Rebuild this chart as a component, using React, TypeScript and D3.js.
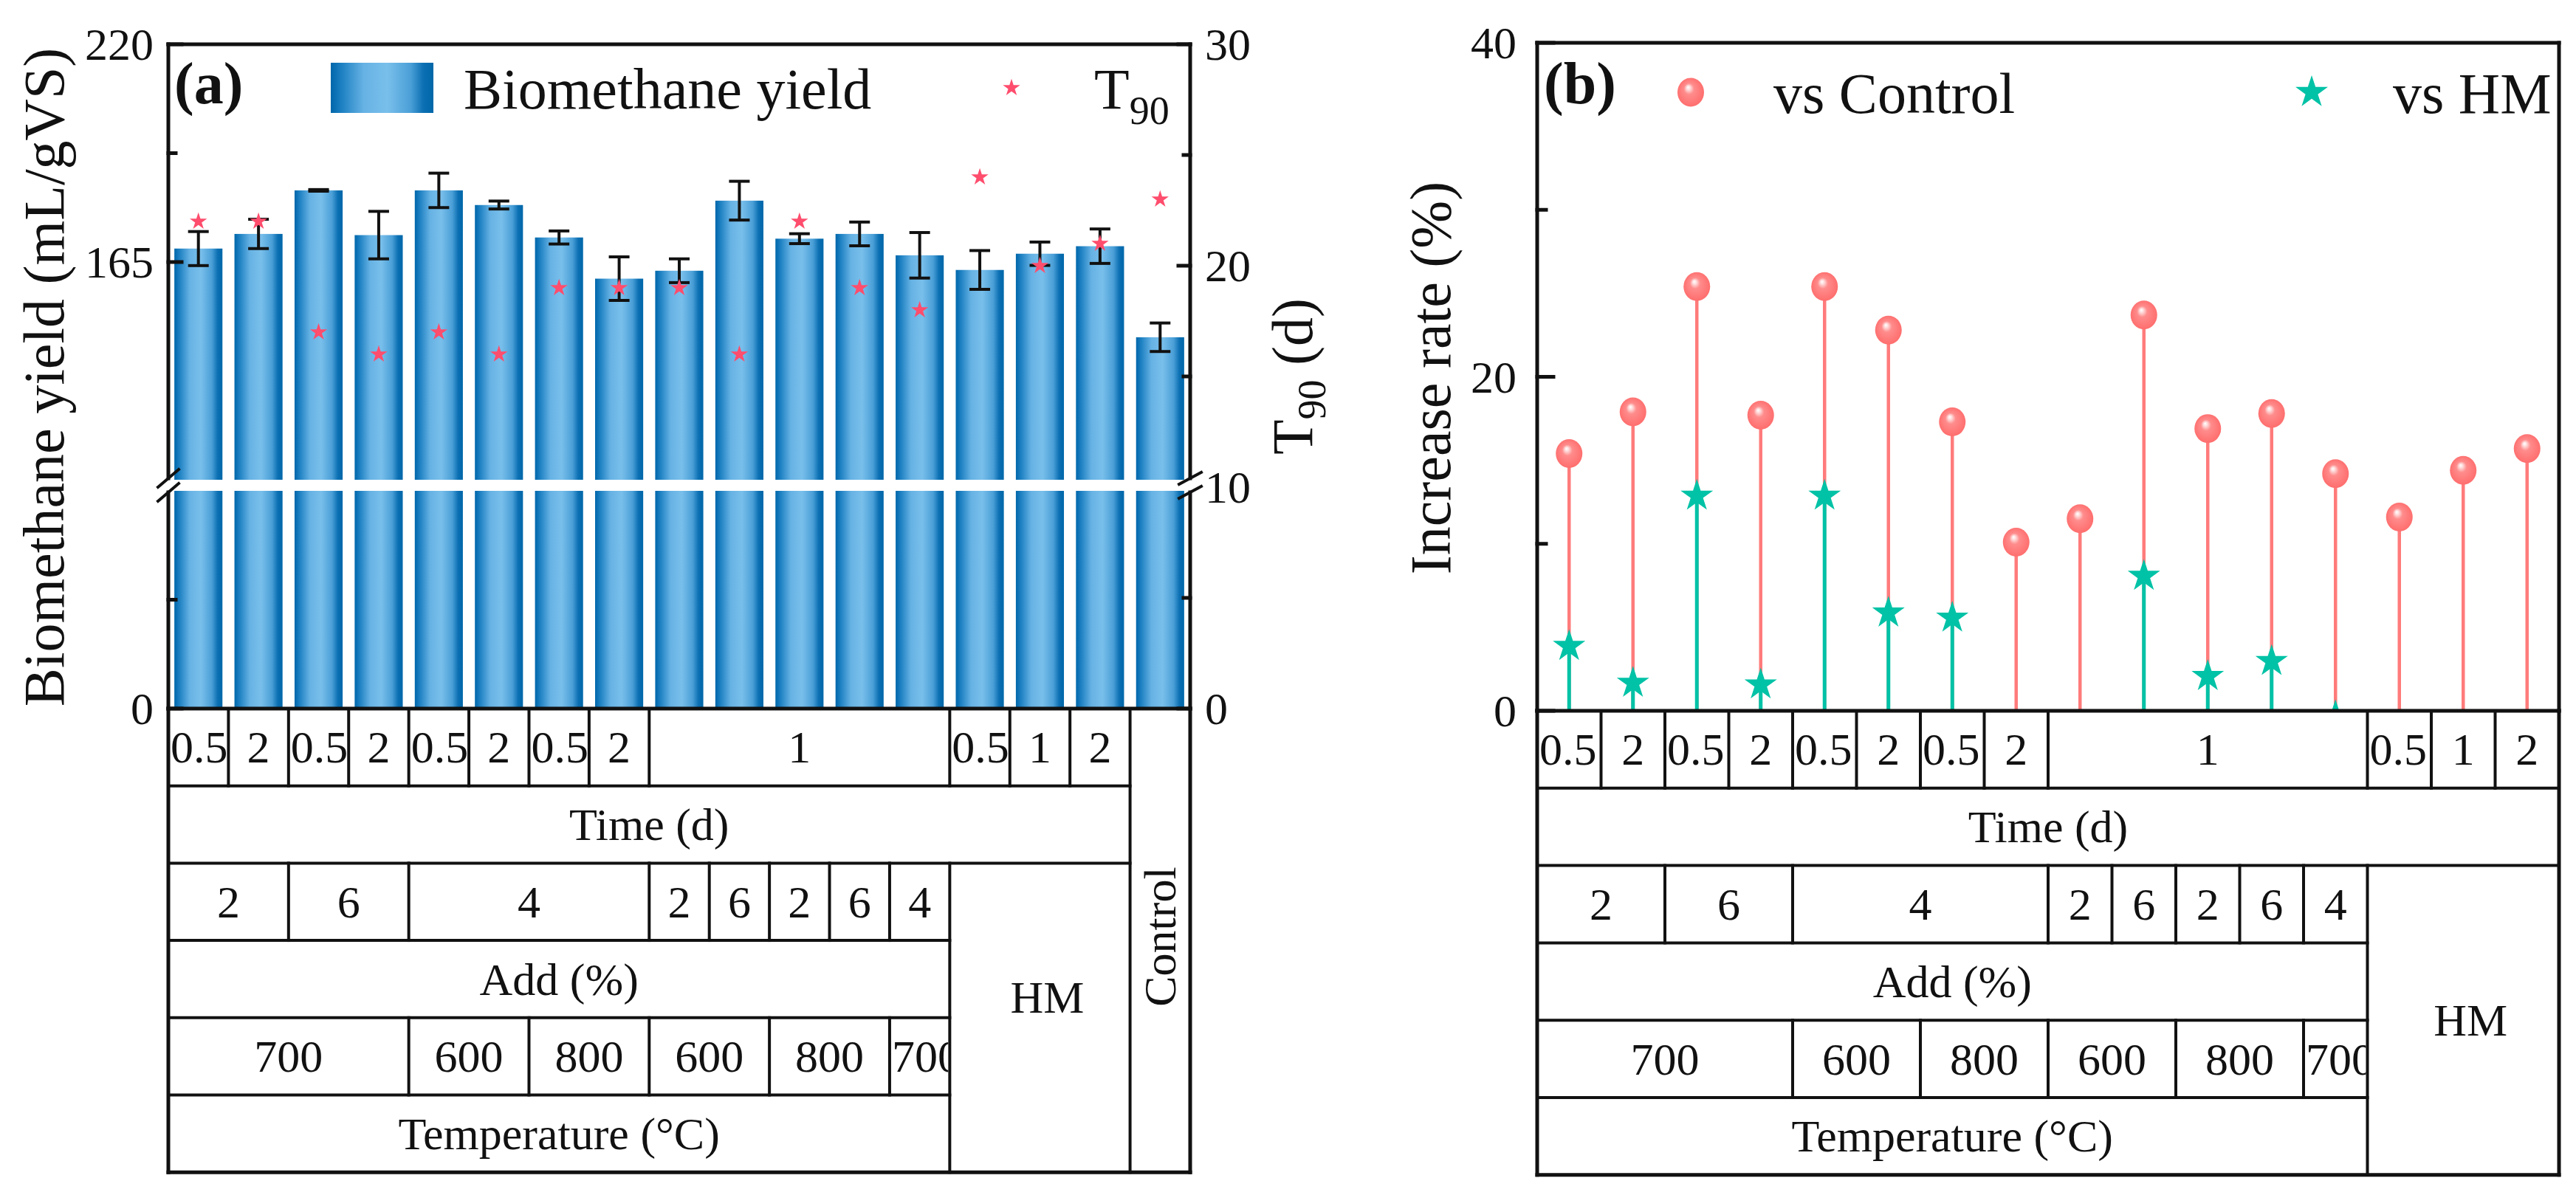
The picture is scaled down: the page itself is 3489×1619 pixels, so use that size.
import { useEffect, useRef } from "react"
import * as d3 from "d3"

// samples: temperature-add-time, then HM (time only) and Control
const samples = [
  "700-2-0.5", "700-2-2", "700-6-0.5", "700-6-2",
  "600-4-0.5", "600-4-2", "800-4-0.5", "800-4-2",
  "600-2-1", "600-6-1", "800-2-1", "800-6-1", "700-4-1",
  "HM-0.5", "HM-1", "HM-2", "Control",
]

// panel (a)
const yieldMean = [168.4, 172.1, 183.1, 171.8, 183.1, 179.4, 171.2, 160.8, 162.8, 180.5, 170.9, 172.1, 166.7, 163.0, 167.1, 169.0, 146.0]
const yieldErr = [4.3, 3.7, 0.2, 6.0, 4.35, 1.0, 1.65, 5.5, 3.0, 4.9, 1.25, 3.0, 5.75, 4.9, 2.95, 4.35, 3.6]
const t90Days = [22, 22, 17, 16, 17, 16, 19, 19, 19, 16, 22, 19, 18, 24, 20, 21, 23]

// panel (b), increase rate (%)
const vsControl = [15.4, 17.9, 25.4, 17.7, 25.4, 22.8, 17.3, 10.1, 11.5, 23.7, 16.9, 17.8, 14.2, 11.6, 14.4, 15.7]
const vsHM: (number | null)[] = [4.0, 1.8, 13.0, 1.7, 13.0, 6.0, 5.7, null, null, 8.2, 2.2, 3.1, -0.2]

// table under the x axis: [label, number of columns spanned]
const timeCells: [string, number][] = [
  ["0.5", 1], ["2", 1], ["0.5", 1], ["2", 1], ["0.5", 1], ["2", 1], ["0.5", 1], ["2", 1],
  ["1", 5], ["0.5", 1], ["1", 1], ["2", 1],
]
const addCells: [string, number][] = [["2", 2], ["6", 2], ["4", 4], ["2", 1], ["6", 1], ["2", 1], ["6", 1], ["4", 1]]
const tempCells: [string, number][] = [["700", 4], ["600", 2], ["800", 2], ["600", 2], ["800", 2], ["700", 1]]

const yieldTicks = [0, 165, 220]
const yieldMinor = [55, 192.5]
const t90Ticks = [0, 10, 20, 30]
const t90Minor = [5, 15, 25]
const rateTicks = [0, 20, 40]
const rateMinor = [10, 30]

const FONT = "'Liberation Serif', 'Times New Roman', Times, serif"
const INK = "#111"

export default function App() {
  const svgRef = useRef<SVGSVGElement>(null)

  useEffect(() => {
    document.body.style.margin = "0"
    if (!svgRef.current) return
    const svg = d3.select(svgRef.current)
    svg.selectAll("*").remove()
    svg.attr("font-family", FONT)

    const defs = svg.append("defs")
    const bg = defs.append("linearGradient").attr("id", "barGrad").attr("x1", 0).attr("x2", 1).attr("y1", 0).attr("y2", 0)
    ;[
      [0, "#0066aa"], [0.1, "#1b7fc1"], [0.32, "#66b2e4"], [0.55, "#79bfeb"],
      [0.78, "#4a9fd7"], [0.9, "#0c70b3"], [1, "#0067a9"],
    ].forEach(([o, c]) => bg.append("stop").attr("offset", o as number).attr("stop-color", c as string))

    const rg = defs.append("radialGradient").attr("id", "ballGrad")
      .attr("cx", 0.5).attr("cy", 0.5).attr("r", 0.55).attr("fx", 0.4).attr("fy", 0.32)
    ;[
      [0, "#ffffff"], [0.12, "#ffe0e0"], [0.35, "#ff8c8c"], [1, "#ff6a6a"],
    ].forEach(([o, c]) => rg.append("stop").attr("offset", o as number).attr("stop-color", c as string))

    let clipId = 0
    const text = (g: any, x: number, y: number, s: string, size: number, anchor = "middle") =>
      g.append("text").attr("x", x).attr("y", y).attr("font-size", size).attr("text-anchor", anchor)
        .attr("fill", INK).text(s)

    const line = (g: any, x1: number, y1: number, x2: number, y2: number, w = 4, c = INK) =>
      g.append("line").attr("x1", x1).attr("y1", y1).attr("x2", x2).attr("y2", y2)
        .attr("stroke", c).attr("stroke-width", w).attr("stroke-linecap", "square")

    // the category table below each panel
    function drawTable(g: any, x0: number, step: number, yTop: number, rowH: number, nCols: number, control: boolean, hmDy: number) {
      const fs = 62
      const X = (k: number) => x0 + k * step
      const Y = (r: number) => yTop + r * rowH
      const timeEnd = 16
      const addEnd = 13
      const right = X(nCols)

      line(g, X(0), Y(1), X(timeEnd), Y(1))
      line(g, X(0), Y(2), X(timeEnd), Y(2))
      ;[3, 4, 5].forEach((r) => line(g, X(0), Y(r), X(addEnd), Y(r)))
      line(g, X(0), Y(6), right, Y(6), 5)
      line(g, X(0), Y(0), X(0), Y(6), 5)
      line(g, right, Y(0), right, Y(6), 5)
      line(g, X(addEnd), Y(2), X(addEnd), Y(6))
      if (control) line(g, X(timeEnd), Y(0), X(timeEnd), Y(6))

      const cells = (list: [string, number][], row: number, end: number) => {
        let k = 0
        list.forEach(([label, span]) => {
          const a = X(k)
          const b = X(k + span)
          const yb = (Y(row) + Y(row + 1)) / 2 + fs * 0.34
          const id = `cell${clipId++}`
          defs.append("clipPath").attr("id", id).append("rect")
            .attr("x", a + 2).attr("y", Y(row)).attr("width", b - a - 4).attr("height", rowH)
          const wide = label.length * fs * 0.5 > b - a - 4
          text(g, wide ? a + 3 : (a + b) / 2, yb, label, fs, wide ? "start" : "middle")
            .attr("clip-path", `url(#${id})`)
          k += span
          if (k < end) line(g, X(k), Y(row), X(k), Y(row + 1))
        })
      }
      cells(timeCells, 0, timeEnd)
      cells(addCells, 2, addEnd)
      cells(tempCells, 4, addEnd)

      text(g, (X(0) + X(timeEnd)) / 2, (Y(1) + Y(2)) / 2 + fs * 0.34, "Time (d)", fs)
      text(g, (X(0) + X(addEnd)) / 2, (Y(3) + Y(4)) / 2 + fs * 0.34, "Add (%)", fs)
      text(g, (X(0) + X(addEnd)) / 2, (Y(5) + Y(6)) / 2 + fs * 0.34, "Temperature (\u00b0C)", fs)
      text(g, (X(addEnd) + X(timeEnd)) / 2 + 10, (Y(2) + Y(6)) / 2 + fs * 0.34 + hmDy, "HM", fs)
      if (control) {
        const cx = (X(timeEnd) + right) / 2 + fs * 0.34
        const cy = (Y(0) + Y(6)) / 2 - 5
        g.append("text").attr("transform", `translate(${cx},${cy}) rotate(-90)`)
          .attr("font-size", fs).attr("text-anchor", "middle").attr("fill", INK).text("Control")
      }
    }

    // ---------------- panel (a) ----------------
    const aL = 228, aR = 1612, aT = 60, aB = 960
    const gapTop = 650, gapBot = 665
    const ga = svg.append("g")

    const xA = d3.scaleBand<string>().domain(samples).range([aL, aR]).paddingInner(0.2).paddingOuter(0.1)
    const yLow = d3.scaleLinear().domain([0, 110]).range([aB, gapBot])
    const yHigh = d3.scaleLinear().domain([110, 220]).range([gapTop, aT])
    const yY = (v: number) => (v <= 110 ? yLow(v) : yHigh(v))
    const yT = d3.scaleLinear().domain([0, 30]).range([aB, aT])
    const bw = xA.bandwidth()

    ga.selectAll(".bar").data(samples).enter().append("rect")
      .attr("x", (d) => xA(d)!).attr("width", bw)
      .attr("y", (d, i) => yY(yieldMean[i])).attr("height", (d, i) => aB - yY(yieldMean[i]))
      .attr("fill", "url(#barGrad)")

    // axis break gap
    ga.append("rect").attr("x", aL + 3).attr("y", gapTop).attr("width", aR - aL - 6).attr("height", gapBot - gapTop).attr("fill", "#fff")

    // error bars
    samples.forEach((s, i) => {
      const cx = xA(s)! + bw / 2
      const y1 = yY(yieldMean[i] + yieldErr[i])
      const y2 = yY(yieldMean[i] - yieldErr[i])
      line(ga, cx, y1, cx, y2, 4).attr("stroke-linecap", "butt")
      line(ga, cx - 14, y1, cx + 14, y1, 4).attr("stroke-linecap", "butt")
      line(ga, cx - 14, y2, cx + 14, y2, 4).attr("stroke-linecap", "butt")
    })

    const smallStar = d3.symbol(d3.symbolStar, 170)
    ga.selectAll(".t90").data(samples).enter().append("path")
      .attr("d", smallStar).attr("fill", "#ff4d6d")
      .attr("transform", (d, i) => `translate(${xA(d)! + bw / 2},${yT(t90Days[i])})`)

    // frame
    line(ga, aL, aT, aR, aT, 5)
    line(ga, aL, aB, aR, aB, 5)
    line(ga, aL, aT, aL, gapTop - 2, 5)
    line(ga, aL, gapBot + 2, aL, aB, 5)
    line(ga, aR, aT, aR, gapTop - 2, 5)
    line(ga, aR, gapBot + 2, aR, aB, 5)
    // break marks
    ;[gapTop - 2, gapBot + 2].forEach((y) => {
      line(ga, aL - 14, y + 12, aL + 14, y - 12, 4)
      line(ga, aR - 15, y + 8, aR + 15, y - 8, 4)
    })

    // left axis
    yieldTicks.forEach((v) => {
      line(ga, aL, yY(v), aL + 18, yY(v), 5)
      text(ga, aL - 20, yY(v) + 62 * 0.34, String(v), 62, "end")
    })
    yieldMinor.forEach((v) => line(ga, aL, yY(v), aL + 10, yY(v), 5))
    // right axis
    t90Ticks.forEach((v) => {
      if (v !== 10) line(ga, aR, yT(v), aR - 16, yT(v), 5)
      text(ga, aR + 20, yT(v) + 62 * 0.34, String(v), 62, "start")
    })
    t90Minor.forEach((v) => line(ga, aR, yT(v), aR - 9, yT(v), 5))

    ga.append("text").attr("transform", `translate(86,511) rotate(-90)`)
      .attr("font-size", 78).attr("text-anchor", "middle").attr("fill", INK)
      .text("Biomethane yield (mL/gVS)")
    const tt = ga.append("text").attr("transform", `translate(1777,510) rotate(-90)`)
      .attr("font-size", 78).attr("text-anchor", "middle").attr("fill", INK)
    tt.append("tspan").text("T")
    tt.append("tspan").text("90").attr("font-size", 54).attr("dy", 18)
    tt.append("tspan").text(" (d)").attr("dy", -18)

    // legend (a)
    ga.append("text").attr("x", 236).attr("y", 140).attr("font-size", 80).attr("font-weight", "bold").attr("fill", INK).text("(a)")
    ga.append("rect").attr("x", 448).attr("y", 85).attr("width", 139).attr("height", 68).attr("fill", "url(#barGrad)")
    text(ga, 628, 147, "Biomethane yield", 78, "start")
    ga.append("path").attr("d", smallStar).attr("fill", "#ff4d6d").attr("transform", "translate(1370,119)")
    const lt = text(ga, 1482, 147, "T", 78, "start")
    lt.append("tspan").text("90").attr("font-size", 54).attr("dy", 21)

    drawTable(ga, aL, xA.step(), aB, 104.7, 17, true, -28)

    // ---------------- panel (b) ----------------
    const bL = 2082, bR = 3466, bT = 58, bB = 963
    const gb = svg.append("g")
    const xB = d3.scaleBand<string>().domain(samples.slice(0, 16)).range([bL, bR])
    const yB = d3.scaleLinear().domain([0, 40]).range([bB, bT])
    const cB = (i: number) => xB(samples[i])! + xB.bandwidth() / 2

    defs.append("clipPath").attr("id", "clipB").append("rect")
      .attr("x", bL).attr("y", bT).attr("width", bR - bL).attr("height", bB - bT)
    const plotB = gb.append("g").attr("clip-path", "url(#clipB)")

    vsControl.forEach((v, i) => line(plotB, cB(i), yB(0), cB(i), yB(v), 4.5, "#ff7b7b").attr("stroke-linecap", "butt"))
    vsHM.forEach((v, i) => {
      if (v === null) return
      line(plotB, cB(i), yB(0), cB(i), yB(Math.max(v, 0)), 5, "#00c2a6").attr("stroke-linecap", "butt")
    })
    plotB.selectAll(".ball").data(vsControl).enter().append("ellipse")
      .attr("cx", (d, i) => cB(i)).attr("cy", (d) => yB(d)).attr("rx", 18).attr("ry", 19.5)
      .attr("fill", "url(#ballGrad)")
    const bigStar = d3.symbol(d3.symbolStar, 600)
    plotB.selectAll(".hm").data(vsHM.map((v, i) => ({ v, i })).filter((d) => d.v !== null)).enter().append("path")
      .attr("d", bigStar).attr("fill", "#00c2a6")
      .attr("transform", (d) => `translate(${cB(d.i)},${yB(d.v as number) + 3})`)

    line(gb, bL, bT, bR, bT, 5)
    line(gb, bL, bB, bR, bB, 5)
    line(gb, bL, bT, bL, bB, 5)
    line(gb, bR, bT, bR, bB, 5)
    rateTicks.forEach((v) => {
      line(gb, bL, yB(v), bL + 22, yB(v), 5)
      text(gb, bL - 28, yB(v) + 62 * 0.34, String(v), 62, "end")
    })
    rateMinor.forEach((v) => line(gb, bL, yB(v), bL + 12, yB(v), 5))

    gb.append("text").attr("transform", `translate(1964,512) rotate(-90)`)
      .attr("font-size", 78).attr("text-anchor", "middle").attr("fill", INK).text("Increase rate (%)")

    gb.append("text").attr("x", 2091).attr("y", 140).attr("font-size", 80).attr("font-weight", "bold").attr("fill", INK).text("(b)")
    gb.append("ellipse").attr("cx", 2290).attr("cy", 125).attr("rx", 18).attr("ry", 19.5).attr("fill", "url(#ballGrad)")
    text(gb, 2402, 153, "vs Control", 78, "start")
    gb.append("path").attr("d", bigStar).attr("fill", "#00c2a6").attr("transform", "translate(3131,125)")
    text(gb, 3241, 153, "vs HM", 78, "start")

    drawTable(gb, bL, xB.step(), bB, 104.8, 16, false, 0)
  }, [])

  return <svg ref={svgRef} width={3489} height={1619} style={{ display: "block", background: "#fff" }} />
}
